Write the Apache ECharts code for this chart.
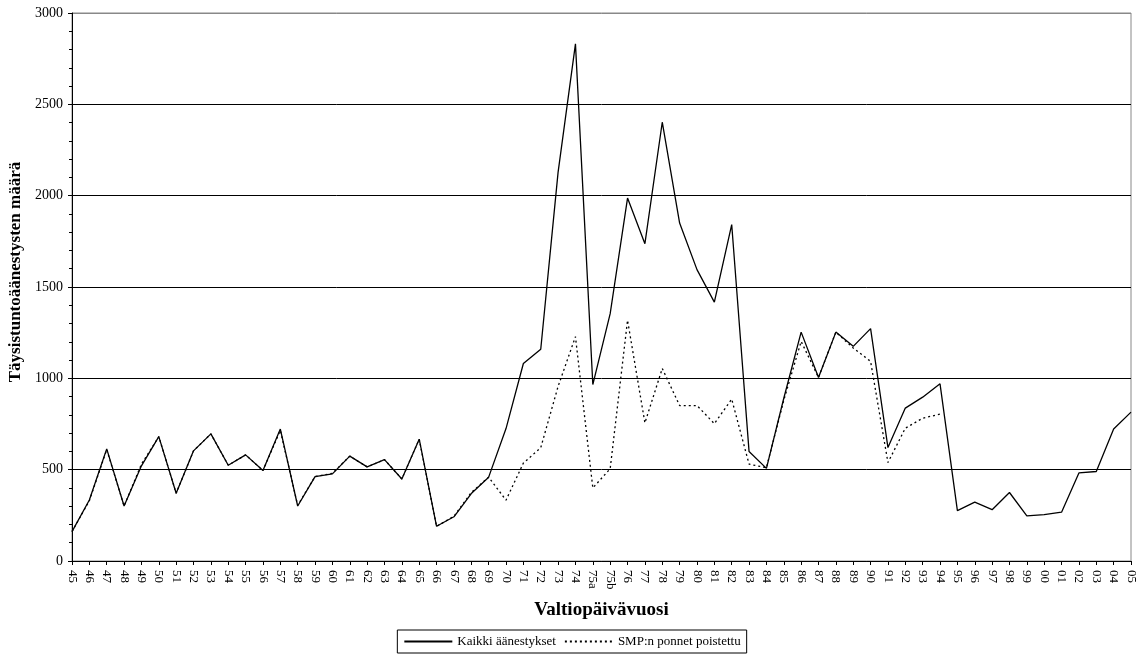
<!DOCTYPE html>
<html>
<head>
<meta charset="utf-8">
<script src="https://cdn.jsdelivr.net/npm/echarts@6/dist/echarts.min.js"></script>
<style>
html,body{margin:0;padding:0;background:#fff;}
#chart{width:1144px;height:657px;}
</style>
</head>
<body>
<div id="chart"></div>
<script>
const categories = ['45','46','47','48','49','50','51','52','53','54','55','56','57','58','59','60','61','62','63','64','65','66','67','68','69','70','71','72','73','74','75a','75b','76','77','78','79','80','81','82','83','84','85','86','87','88','89','90','91','92','93','94','95','96','97','98','99','00','01','02','03','04','05'];

const allVotes = [161,334,614,301,521,681,371,603,696,524,581,495,722,301,462,477,574,515,555,449,667,190,242,369,459,725,1081,1159,2129,2831,966,1354,1987,1737,2402,1850,1595,1417,1842,599,507,891,1253,1005,1253,1175,1272,621,837,897,970,276,322,281,375,247,254,267,482,490,723,815];

const noSmpMotions = [161,330,610,301,530,681,371,603,696,524,581,495,715,305,462,480,574,515,555,449,667,190,245,375,459,333,536,620,956,1228,400,505,1318,756,1054,851,851,752,886,530,511,880,1202,1005,1253,1166,1093,539,727,782,804,null,null,null,null,null,null,null,null,null,null,null];

const yTicks = [0,500,1000,1500,2000,2500,3000];

const serif = '"Liberation Serif", "Times New Roman", serif';
const chart = echarts.init(document.getElementById('chart'));
chart.setOption({
  animation: false,
  backgroundColor: '#fff',
  textStyle: {fontFamily: serif, color: '#000'},
  grid: {left: 72, right: 13, top: 13, bottom: 96, show: true, borderColor: '#888', borderWidth: 1,
         outerBoundsMode: 'none', containLabel: false},
  legend: {
    top: 630, left: 'center',
    itemWidth: 48, itemHeight: 10, itemGap: 8,
    padding: [5, 6, 5, 6],
    borderColor: '#000', borderWidth: 1, borderRadius: 0,
    itemStyle: {opacity: 0},
    textStyle: {fontFamily: serif, fontSize: 13, color: '#000'},
    data: ['Kaikki äänestykset', 'SMP:n ponnet poistettu']
  },
  xAxis: {
    type: 'category', data: categories, boundaryGap: false,
    name: 'Valtiopäivävuosi', nameLocation: 'middle', nameGap: 40,
    nameTextStyle: {fontFamily: serif, fontSize: 19, fontWeight: 'bold', color: '#000'},
    axisLine: {lineStyle: {color: '#000', width: 1}},
    axisTick: {alignWithLabel: true, interval: 0, length: 4, lineStyle: {color: '#000'}},
    axisLabel: {interval: 0, rotate: -90, fontFamily: serif, fontSize: 13, color: '#000', margin: 9},
    splitLine: {show: false}
  },
  yAxis: {
    type: 'value', min: 0, max: 3000, interval: 500,
    name: 'Täysistuntoäänestysten määrä', nameLocation: 'middle', nameGap: 47,
    nameTextStyle: {fontFamily: serif, fontSize: 17, fontWeight: 'bold', color: '#000', padding: [0, 0, 0, 30]},
    axisLine: {show: true, lineStyle: {color: '#000', width: 1}},
    axisTick: {show: true, length: 4, lineStyle: {color: '#000'}},
    minorTick: {show: true, splitNumber: 5, length: 3, lineStyle: {color: '#000'}},
    axisLabel: {fontFamily: serif, fontSize: 14, color: '#000', margin: 9,
      formatter: v => yTicks.includes(v) ? String(v) : ''},
    splitLine: {show: true, lineStyle: {color: ['#000','#000','#000','#000','#000','#000','#888'], width: 1}}
  },
  series: [
    {name: 'Kaikki äänestykset', type: 'line', data: allVotes, symbol: 'none',
     lineStyle: {color: '#000', width: 1.3, type: 'solid'}, itemStyle: {color: '#000'}, z: 3},
    {name: 'SMP:n ponnet poistettu', type: 'line', data: noSmpMotions, symbol: 'none',
     lineStyle: {color: '#000', width: 1.3, type: [2, 3]}, itemStyle: {color: '#000'}, z: 2}
  ]
});
</script>
</body>
</html>
